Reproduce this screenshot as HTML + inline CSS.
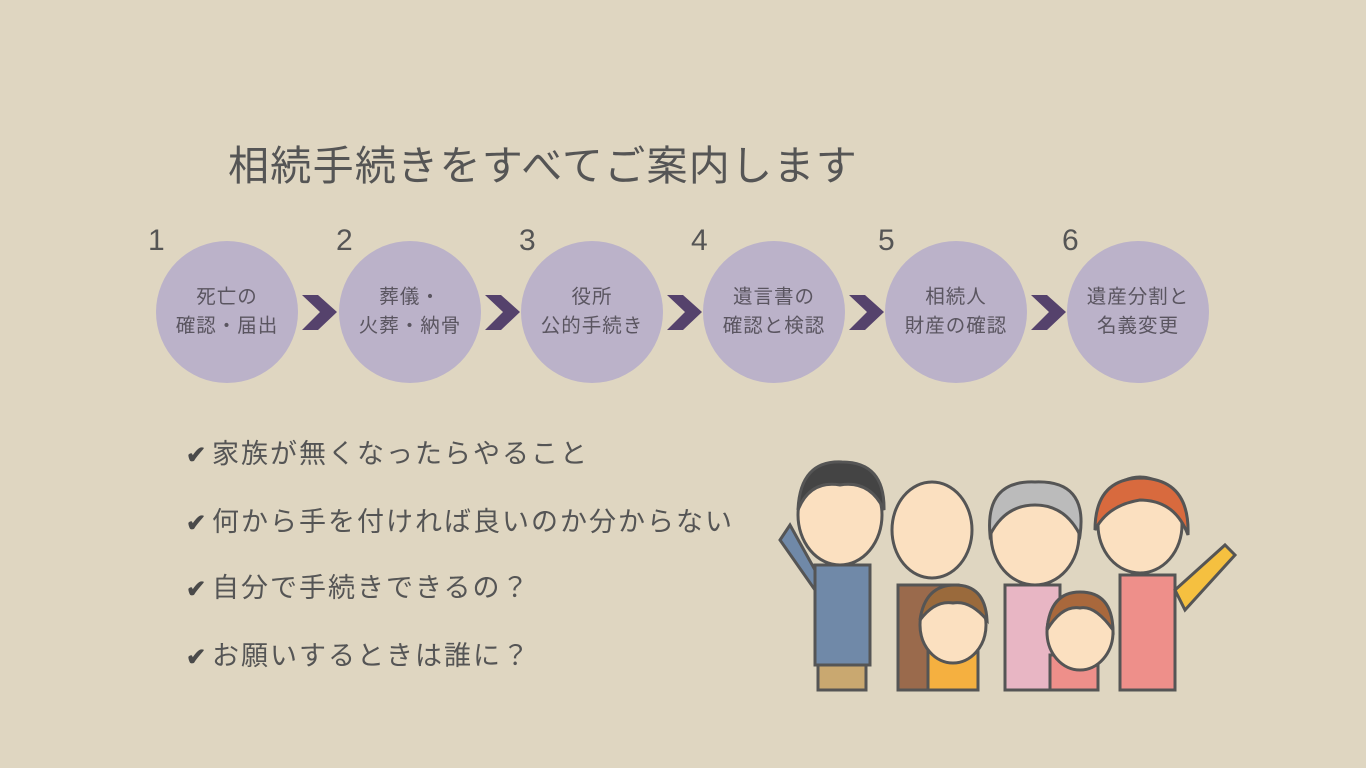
<!DOCTYPE html>
<html><head><meta charset="utf-8"><style>
body{margin:0;width:1366px;height:768px;background:#dfd6c1;position:relative;overflow:hidden;font-family:"Liberation Sans","Noto Sans CJK JP",sans-serif;color:#555}
.t{position:absolute;white-space:nowrap}
.c{position:absolute;width:142px;height:142px;border-radius:50%;background:#bbb2c9;top:241px;display:flex;align-items:center;justify-content:center;text-align:center;font-size:19.5px;letter-spacing:1px;line-height:29px;color:#5a5560}
.n{position:absolute;top:224px;font-size:30px;color:#555}
.l{position:absolute;left:186px;font-size:27px;letter-spacing:2px;color:#555;white-space:nowrap}
.l b{font-size:24px;letter-spacing:0;display:inline-block;width:26px;color:#4a4a4a}
</style></head><body>
<div class="t" style="left:228px;top:132px;font-size:41px;letter-spacing:1.3px;color:#555">相続手続きをすべてご案内します</div>
<div class="n" style="left:148px">1</div>
<div class="n" style="left:336px">2</div>
<div class="n" style="left:519px">3</div>
<div class="n" style="left:691px">4</div>
<div class="n" style="left:878px">5</div>
<div class="n" style="left:1062px">6</div>
<div class="c" style="left:156px">死亡の<br>確認・届出</div>
<div class="c" style="left:339px">葬儀・<br>火葬・納骨</div>
<div class="c" style="left:521px">役所<br>公的手続き</div>
<div class="c" style="left:703px">遺言書の<br>確認と検認</div>
<div class="c" style="left:885px">相続人<br>財産の確認</div>
<div class="c" style="left:1067px">遺産分割と<br>名義変更</div>
<svg width="1366" height="768" style="position:absolute;left:0;top:0">
<g fill="#55426c">
<polygon points="302,295 318,295 337,312 318,330 302,330 320,312"/>
<polygon points="485,295 501,295 520,312 501,330 485,330 503,312"/>
<polygon points="667,295 683,295 702,312 683,330 667,330 685,312"/>
<polygon points="849,295 865,295 884,312 865,330 849,330 867,312"/>
<polygon points="1031,295 1047,295 1066,312 1047,330 1031,330 1049,312"/>
</g>
<g stroke="#555" stroke-width="3">
<rect x="815" y="565" width="55" height="100" fill="#7089a8"/>
<polygon points="790,525 815,570 815,590 780,540" fill="#7089a8"/>
<rect x="818" y="665" width="48" height="25" fill="#c9a870"/>
<ellipse cx="840" cy="515" rx="42" ry="50" fill="#fbe0c0"/>
<path d="M798,510 Q800,460 842,462 Q885,462 884,510 Q870,480 840,485 Q810,480 798,510Z" fill="#444"/>
<rect x="898" y="585" width="60" height="105" fill="#9a6a4c"/>
<ellipse cx="932" cy="530" rx="40" ry="48" fill="#fbe0c0"/>
<rect x="1005" y="585" width="55" height="105" fill="#e8b6c4"/>
<ellipse cx="1035" cy="535" rx="44" ry="50" fill="#fbe0c0"/>
<path d="M990,535 Q985,480 1035,482 Q1088,480 1080,535 Q1065,505 1035,505 Q1005,505 990,535Z" fill="#bbb"/>
<rect x="1120" y="575" width="55" height="115" fill="#ee8f8a"/>
<polygon points="1175,590 1225,545 1235,555 1185,610" fill="#f5c040"/>
<ellipse cx="1140" cy="525" rx="42" ry="48" fill="#fbe0c0"/>
<path d="M1095,530 Q1095,478 1142,478 Q1190,480 1188,535 Q1175,500 1140,500 Q1108,505 1095,530Z" fill="#d86a3e"/>
<rect x="928" y="650" width="50" height="40" fill="#f5b040"/>
<ellipse cx="953" cy="625" rx="33" ry="38" fill="#fbe0c0"/>
<path d="M920,620 Q925,585 955,585 Q985,585 987,620 Q970,600 953,603 Q935,600 920,620Z" fill="#9a6a3c"/>
<rect x="1050" y="655" width="48" height="35" fill="#ee8f8a"/>
<ellipse cx="1080" cy="632" rx="33" ry="38" fill="#fbe0c0"/>
<path d="M1047,630 Q1050,592 1080,592 Q1112,592 1113,630 Q1095,605 1080,608 Q1062,605 1047,630Z" fill="#a9683c"/>
</g>
</svg>
<div class="l" style="top:432px"><b>✔</b>家族が無くなったらやること</div>
<div class="l" style="top:500px"><b>✔</b>何から手を付ければ良いのか分からない</div>
<div class="l" style="top:566px"><b>✔</b>自分で手続きできるの？</div>
<div class="l" style="top:634px"><b>✔</b>お願いするときは誰に？</div>
</body></html>
